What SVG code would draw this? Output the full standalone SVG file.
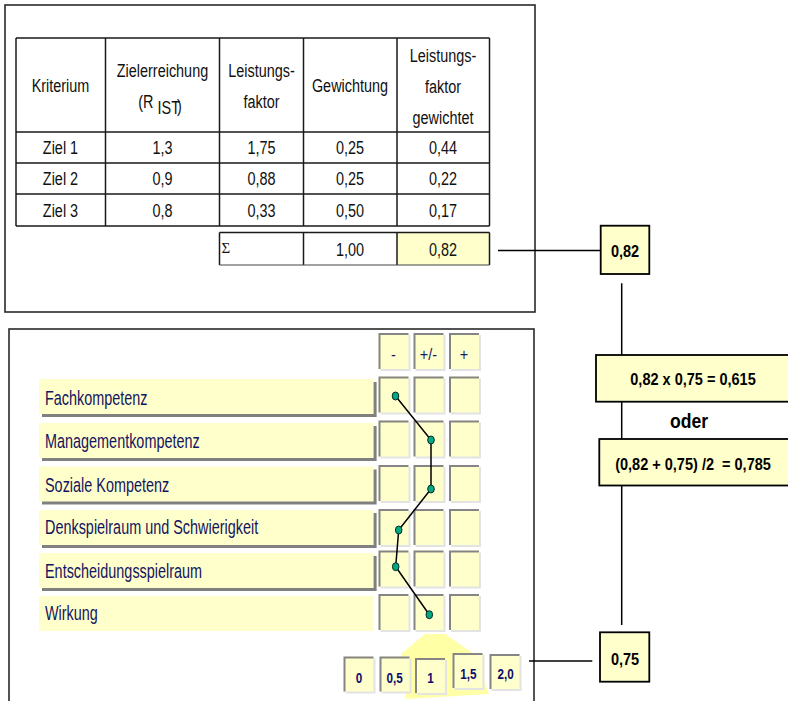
<svg xmlns="http://www.w3.org/2000/svg" width="788" height="701" viewBox="0 0 788 701">
<style>
text{font-family:"Liberation Sans",Arial,Helvetica,sans-serif}
.t,.l,.b,.od,.s,.h{transform-box:fill-box;transform-origin:center}
.t{font-size:19px;fill:#111;text-anchor:middle;transform:scaleX(.76)}
.l{font-size:19.5px;fill:#15155f;transform:scaleX(.74);transform-origin:left center}
.b{font-size:16.5px;font-weight:bold;fill:#000;text-anchor:middle;transform:scaleX(.88)}
.od{font-size:20.5px;font-weight:bold;fill:#000;text-anchor:middle;transform:scaleX(.86)}
.s{font-size:15px;font-weight:bold;fill:#0c0c6e;text-anchor:middle;transform:scaleX(.78)}
.h{font-size:17px;fill:#1a1a70;text-anchor:middle;transform:scaleX(.85)}
.sig{font-family:"Liberation Serif","Times New Roman",serif;font-size:15px;fill:#111}
.panel{fill:#fff;stroke:#2a2a2a;stroke-width:1.6}
.grid{fill:none;stroke:#1a1a1a;stroke-width:1.5}
.box{fill:#FFFFCC;stroke:#000;stroke-width:1.8}
.conn{fill:none;stroke:#000;stroke-width:1.5}
.bar{fill:#FFFFCC}
.barsh{fill:#808080}
.dot{fill:#00A884;stroke:#0a2a22;stroke-width:1}
</style>
<defs>
<g id="cell">
<rect x="2" y="2" width="30" height="36" fill="#E3E3E3"/>
<rect x="0" y="0" width="30" height="36" fill="#FFFFCC"/>
<path d="M1,36 V1 H30" fill="none" stroke="#858585" stroke-width="2"/>
</g>
<g id="scell">
<rect x="2" y="2" width="30" height="35" fill="#E3E3E3"/>
<rect x="0" y="0" width="30" height="35" fill="#FFFFCC"/>
<path d="M1,35 V1 H30" fill="none" stroke="#858585" stroke-width="2"/>
</g>
</defs>

<rect width="788" height="701" fill="#fff"/>

<!-- top panel with table -->
<g id="table-panel">
<rect class="panel" x="5" y="5" width="530" height="307"/>
<rect x="397" y="232.5" width="92.5" height="32.5" fill="#FFFFCC"/>
<path class="grid" d="M16,38H489.5 M16,132H489.5 M16,163H489.5 M16,194H489.5 M16,226H489.5 M16,38V226 M105.5,38V226 M219.5,38V226 M303.5,38V226 M397,38V226 M489.5,38V226"/>
<path class="grid" d="M219.5,232.5H489.5 M219.5,232.5V265 M303.5,232.5V265 M397,232.5V265 M489.5,232.5V265"/>
<path d="M219.5,265H489.5" stroke="#444" stroke-width="1.2"/>
<text class="t" x="60.5" y="92">Kriterium</text>
<text class="t" x="162.5" y="77">Zielerreichung</text>
<text class="t" x="160" y="108">(R <tspan dy="6">IST</tspan><tspan dx="-4" dy="-2">)</tspan></text>
<text class="t" x="261.5" y="77">Leistungs-</text>
<text class="t" x="261.5" y="108">faktor</text>
<text class="t" x="350" y="92">Gewichtung</text>
<text class="t" x="443" y="62">Leistungs-</text>
<text class="t" x="443" y="93">faktor</text>
<text class="t" x="443" y="124">gewichtet</text>
<text class="t" x="60.5" y="154.5">Ziel 1</text>
<text class="t" x="162.5" y="154.5">1,3</text>
<text class="t" x="261.5" y="154.5">1,75</text>
<text class="t" x="350" y="154.5">0,25</text>
<text class="t" x="443" y="154.5">0,44</text>
<text class="t" x="60.5" y="185.5">Ziel 2</text>
<text class="t" x="162.5" y="185.5">0,9</text>
<text class="t" x="261.5" y="185.5">0,88</text>
<text class="t" x="350" y="185.5">0,25</text>
<text class="t" x="443" y="185.5">0,22</text>
<text class="t" x="60.5" y="217">Ziel 3</text>
<text class="t" x="162.5" y="217">0,8</text>
<text class="t" x="261.5" y="217">0,33</text>
<text class="t" x="350" y="217">0,50</text>
<text class="t" x="443" y="217">0,17</text>
<text class="sig" x="221.5" y="253">Σ</text>
<text class="t" x="350" y="256">1,00</text>
<text class="t" x="443" y="256">0,82</text>
</g>

<!-- lower panel -->
<g id="profile-panel">
<rect class="panel" x="9" y="329" width="525" height="400"/>
</g>

<!-- connectors -->
<g id="connectors">
<line class="conn" x1="498" y1="250.5" x2="601" y2="250.5"/>
<line class="conn" x1="621.7" y1="283.3" x2="621.7" y2="625"/>
<line class="conn" x1="529" y1="661" x2="592.3" y2="661"/>
</g>

<!-- right-hand boxes -->
<g id="box-082">
<rect class="box" x="600.7" y="225.7" width="48.6" height="48.3"/>
<text class="b" x="625" y="257">0,82</text>
</g>
<g id="box-product">
<rect class="box" x="596" y="355" width="210" height="46.7"/>
<text class="b" x="693" y="385">0,82 x 0,75 = 0,615</text>
</g>
<g id="label-oder">
<text class="od" x="689" y="428.3">oder</text>
</g>
<g id="box-mean">
<rect class="box" x="599.3" y="439" width="210" height="46.5"/>
<text class="b" x="693" y="470" xml:space="preserve">(0,82 + 0,75) /2  = 0,785</text>
</g>
<g id="box-075">
<rect class="box" x="600" y="632.3" width="49.3" height="49.4"/>
<text class="b" x="625" y="665">0,75</text>
</g>

<!-- criteria bars -->
<g id="bar-fachkompetenz">
<rect class="barsh" x="42" y="382" width="334.6" height="35"/>
<rect class="bar" x="39" y="379" width="334.6" height="35"/>
<text class="l" x="45" y="405">Fachkompetenz</text>
</g>
<g id="bar-management">
<rect class="barsh" x="42" y="426" width="334.6" height="35"/>
<rect class="bar" x="39" y="423" width="334.6" height="35"/>
<text class="l" x="45" y="447.7">Managementkompetenz</text>
</g>
<g id="bar-sozial">
<rect class="barsh" x="42" y="469.5" width="334.6" height="35"/>
<rect class="bar" x="39" y="466.5" width="334.6" height="35"/>
<text class="l" x="45" y="491.7">Soziale Kompetenz</text>
</g>
<g id="bar-denkspielraum">
<rect class="barsh" x="42" y="513" width="334.6" height="35"/>
<rect class="bar" x="39" y="510" width="334.6" height="35"/>
<text class="l" x="45" y="534.3">Denkspielraum und Schwierigkeit</text>
</g>
<g id="bar-entscheidung">
<rect class="barsh" x="42" y="556" width="334.6" height="35"/>
<rect class="bar" x="39" y="553" width="334.6" height="35"/>
<text class="l" x="45" y="577.7">Entscheidungsspielraum</text>
</g>
<g id="bar-wirkung">
<rect class="bar" x="39" y="596" width="334.6" height="35"/>
<text class="l" x="45" y="620">Wirkung</text>
</g>

<!-- rating grid -->
<g id="rating-header">
<use href="#cell" x="378.5" y="333"/>
<use href="#cell" x="413.5" y="333"/>
<use href="#cell" x="449" y="333"/>
<text class="h" x="393.5" y="360">-</text>
<text class="h" x="428.5" y="360">+/-</text>
<text class="h" x="464" y="360">+</text>
</g>
<g id="rating-grid">
<use href="#cell" x="378.5" y="376.5"/><use href="#cell" x="413.5" y="376.5"/><use href="#cell" x="449" y="376.5"/>
<use href="#cell" x="378.5" y="420.5"/><use href="#cell" x="413.5" y="420.5"/><use href="#cell" x="449" y="420.5"/>
<use href="#cell" x="378.5" y="465"/><use href="#cell" x="413.5" y="465"/><use href="#cell" x="449" y="465"/>
<use href="#cell" x="378.5" y="509"/><use href="#cell" x="413.5" y="509"/><use href="#cell" x="449" y="509"/>
<use href="#cell" x="378.5" y="550.5"/><use href="#cell" x="413.5" y="550.5"/><use href="#cell" x="449" y="550.5"/>
<use href="#cell" x="378.5" y="594"/><use href="#cell" x="413.5" y="594"/><use href="#cell" x="449" y="594"/>
</g>

<!-- profile line -->
<g id="profile">
<polyline class="conn" points="395.5,396 431,440 431,489 398.7,530 395.7,566.7 429.3,614.7"/>
<ellipse class="dot" cx="395.5" cy="396" rx="3.3" ry="4"/>
<ellipse class="dot" cx="431" cy="440" rx="3.3" ry="4"/>
<ellipse class="dot" cx="431" cy="489" rx="3.3" ry="4"/>
<ellipse class="dot" cx="398.7" cy="530" rx="3.3" ry="4"/>
<ellipse class="dot" cx="395.7" cy="566.7" rx="3.3" ry="4"/>
<ellipse class="dot" cx="429.3" cy="614.7" rx="3.3" ry="4"/>
</g>

<!-- pointer -->
<g id="pointer">
<polygon points="425,634 445,634 474,654 489,694 406,699 401,654" fill="#FFFFA6"/>
</g>

<!-- scale -->
<g id="scale-0"><use href="#scell" x="343.5" y="656.5"/><text class="s" x="359" y="682.7">0</text></g>
<g id="scale-05"><use href="#scell" x="379.5" y="656.5"/><text class="s" x="394.5" y="682.7">0,5</text></g>
<g id="scale-1"><use href="#scell" x="415" y="658"/><text class="s" x="430.5" y="682.7">1</text></g>
<g id="scale-15"><use href="#scell" x="452.5" y="653"/><text class="s" x="468.3" y="679.3">1,5</text></g>
<g id="scale-20"><use href="#scell" x="489.5" y="654"/><text class="s" x="505.7" y="679.3">2,0</text></g>
</svg>
